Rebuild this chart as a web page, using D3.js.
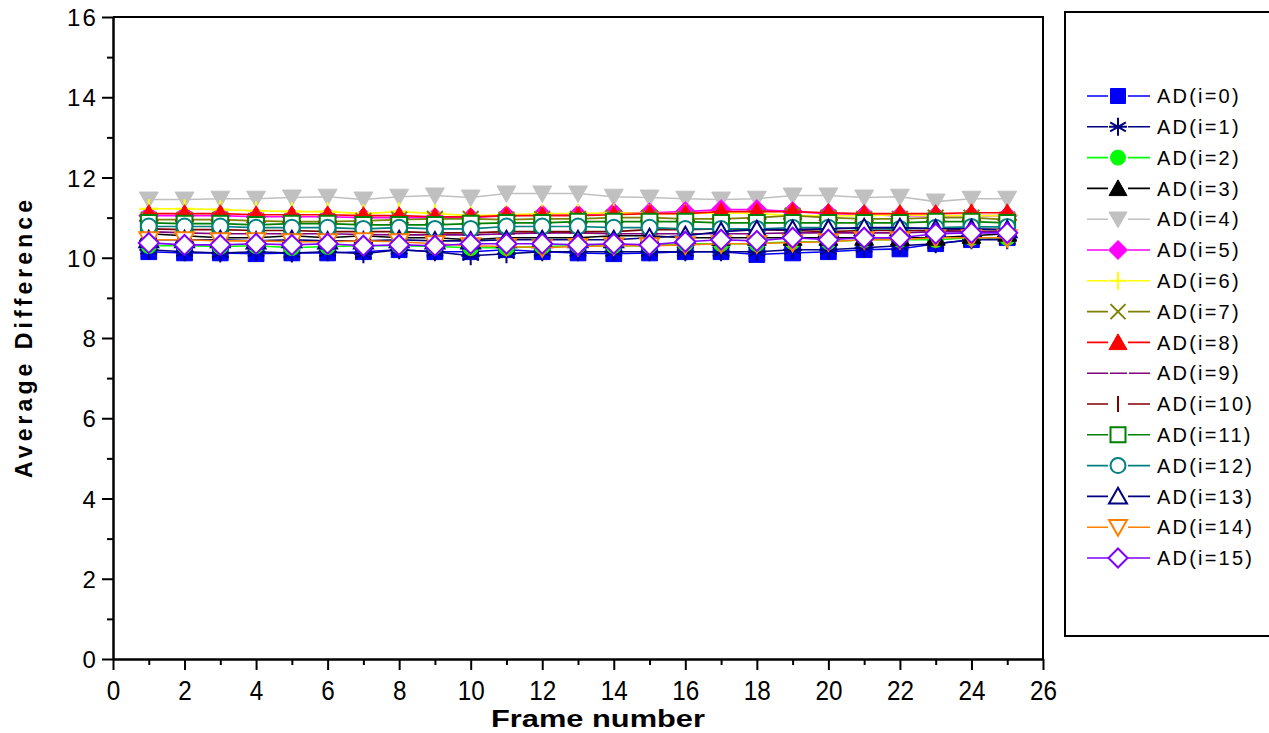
<!DOCTYPE html>
<html><head><meta charset="utf-8">
<script src="https://cdn.jsdelivr.net/npm/d3@7/dist/d3.min.js"></script>
<style>
html,body{margin:0;padding:0;background:#fff;}
svg{display:block;font-family:"Liberation Sans",Arial,sans-serif;}
</style></head>
<body>
<svg id="c" width="1269" height="733"></svg>
<script>
const frames = d3.range(1, 26);
const seriesNames = ["AD(i=0)","AD(i=1)","AD(i=2)","AD(i=3)","AD(i=4)","AD(i=5)","AD(i=6)","AD(i=7)","AD(i=8)","AD(i=9)","AD(i=10)","AD(i=11)","AD(i=12)","AD(i=13)","AD(i=14)","AD(i=15)"];
const xTicks = d3.range(0, 27, 2);
const yTicks = d3.range(0, 17, 2);

const ad0  = [10.15,10.12,10.12,10.10,10.12,10.12,10.15,10.20,10.15,10.15,10.20,10.15,10.12,10.10,10.12,10.15,10.15,10.08,10.12,10.15,10.20,10.22,10.35,10.45,10.50];
const ad1  = [10.20,10.15,10.12,10.15,10.12,10.15,10.10,10.20,10.15,10.05,10.10,10.15,10.15,10.15,10.15,10.15,10.15,10.15,10.20,10.20,10.25,10.30,10.35,10.45,10.45];
const ad2  = [10.30,10.30,10.28,10.30,10.25,10.28,10.30,10.30,10.28,10.25,10.25,10.28,10.30,10.30,10.30,10.35,10.35,10.35,10.40,10.40,10.45,10.45,10.45,10.50,10.50];
const ad3  = [10.60,10.55,10.50,10.50,10.55,10.50,10.55,10.50,10.50,10.45,10.50,10.50,10.50,10.55,10.55,10.50,10.50,10.50,10.50,10.50,10.50,10.50,10.50,10.55,10.60];
const ad4  = [11.45,11.45,11.47,11.47,11.50,11.52,11.45,11.52,11.55,11.50,11.60,11.60,11.60,11.52,11.50,11.47,11.45,11.47,11.55,11.55,11.50,11.52,11.40,11.47,11.47];
const ad5  = [11.05,11.05,11.05,11.02,11.02,11.02,11.00,11.00,11.00,11.00,11.05,11.07,11.07,11.12,11.12,11.15,11.20,11.20,11.15,11.10,11.07,11.05,11.05,11.05,11.05];
const ad6  = [11.22,11.22,11.20,11.17,11.15,11.15,11.10,11.15,11.10,11.05,11.07,11.10,11.10,11.12,11.10,11.10,11.12,11.10,11.05,11.05,11.05,11.07,11.05,11.05,11.05];
const ad7  = [10.95,10.95,10.95,10.92,10.90,10.90,10.92,10.95,10.97,10.97,10.95,10.97,10.97,11.00,11.00,10.97,10.97,11.00,11.05,11.00,10.97,10.97,11.00,11.00,10.95];
const ad8  = [11.10,11.10,11.10,11.07,11.07,11.07,11.05,11.05,11.02,11.02,11.05,11.05,11.05,11.07,11.10,11.10,11.15,11.15,11.15,11.12,11.10,11.10,11.10,11.12,11.12];
const ad9  = [10.65,10.62,10.60,10.60,10.60,10.60,10.58,10.57,10.57,10.57,10.60,10.62,10.62,10.60,10.60,10.60,10.60,10.60,10.62,10.62,10.62,10.62,10.65,10.65,10.65];
const ad10 = [10.72,10.70,10.70,10.68,10.68,10.65,10.65,10.65,10.62,10.62,10.65,10.65,10.65,10.65,10.70,10.70,10.72,10.70,10.68,10.65,10.68,10.68,10.68,10.70,10.70];
const ad11 = [10.87,10.85,10.85,10.82,10.85,10.85,10.82,10.82,10.82,10.85,10.87,10.87,10.90,10.90,10.90,10.90,10.87,10.87,10.87,10.87,10.87,10.87,10.90,10.90,10.87];
const ad12 = [10.78,10.78,10.78,10.75,10.75,10.75,10.72,10.75,10.72,10.72,10.78,10.78,10.78,10.75,10.75,10.72,10.72,10.72,10.75,10.75,10.72,10.72,10.75,10.77,10.77];
const ad13 = [10.45,10.45,10.45,10.42,10.45,10.42,10.42,10.45,10.42,10.42,10.45,10.45,10.45,10.45,10.50,10.55,10.65,10.70,10.70,10.72,10.75,10.75,10.72,10.72,10.70];
const ad14 = [10.45,10.45,10.42,10.42,10.40,10.40,10.42,10.40,10.35,10.30,10.28,10.25,10.28,10.30,10.30,10.32,10.35,10.35,10.38,10.40,10.45,10.45,10.50,10.50,10.50];
const ad15 = [10.37,10.32,10.32,10.35,10.32,10.35,10.30,10.32,10.30,10.35,10.35,10.35,10.32,10.35,10.32,10.40,10.45,10.42,10.50,10.45,10.50,10.50,10.60,10.62,10.62];
const seriesValues = [ad0,ad1,ad2,ad3,ad4,ad5,ad6,ad7,ad8,ad9,ad10,ad11,ad12,ad13,ad14,ad15];

const styles = [
  {c:"#0000ff", m:"square", fill:true},
  {c:"#000080", m:"asterisk", fill:false},
  {c:"#00ff00", m:"circle", fill:true},
  {c:"#000000", m:"triUp", fill:true},
  {c:"#c0c0c0", m:"triDown", fill:true},
  {c:"#ff00ff", m:"diamond", fill:true},
  {c:"#ffff00", m:"plus", fill:false},
  {c:"#808000", m:"cross", fill:false},
  {c:"#ff0000", m:"triUp", fill:true},
  {c:"#800080", m:"hbar", fill:false},
  {c:"#800000", m:"vbar", fill:false},
  {c:"#008000", m:"square", fill:false},
  {c:"#008080", m:"circle", fill:false},
  {c:"#000080", m:"triUp", fill:false},
  {c:"#ff8000", m:"triDown", fill:false},
  {c:"#8000ff", m:"diamond", fill:false}
];
const closedShapes = ["square","circle","triUp","triDown","diamond"];

function markerPath(m, s) {
  const p = d3.path();
  switch (m) {
    case "square": { const r = 7.5*s; p.rect(-r,-r,2*r,2*r); break; }
    case "circle": { const r = 7.5*s; p.moveTo(r,0); p.arc(0,0,r,0,2*Math.PI); p.closePath(); break; }
    case "triUp": { const r = 9*s; p.moveTo(0,-r*0.95); p.lineTo(r,r*0.8); p.lineTo(-r,r*0.8); p.closePath(); break; }
    case "triDown": { const r = 9*s; p.moveTo(0,r*0.95); p.lineTo(r,-r*0.8); p.lineTo(-r,-r*0.8); p.closePath(); break; }
    case "diamond": { const r = 9.5*s; p.moveTo(0,-r); p.lineTo(r,0); p.lineTo(0,r); p.lineTo(-r,0); p.closePath(); break; }
    case "plus": { const r = 9*s; p.moveTo(-r,0); p.lineTo(r,0); p.moveTo(0,-r); p.lineTo(0,r); break; }
    case "cross": { const r = 7.5*s; p.moveTo(-r,-r); p.lineTo(r,r); p.moveTo(-r,r); p.lineTo(r,-r); break; }
    case "asterisk": { const r = 9*s; p.moveTo(0,-r); p.lineTo(0,r);
      p.moveTo(-r*0.87,-r*0.5); p.lineTo(r*0.87,r*0.5); p.moveTo(-r*0.87,r*0.5); p.lineTo(r*0.87,-r*0.5);
      p.moveTo(-r,0); p.lineTo(r,0); break; }
    case "hbar": { const r = 8*s; p.moveTo(-r,0); p.lineTo(r,0); break; }
    case "vbar": { const r = 8*s; p.moveTo(0,-r); p.lineTo(0,r); break; }
  }
  return p.toString();
}

const svg = d3.select("#c");
const x = d3.scaleLinear().domain([0,26]).range([113,1043]);
const y = d3.scaleLinear().domain([0,16]).range([659,17]);

// frame (top and right)
svg.append("path").attr("d", `M${x(0)},${y(16)}H${x(26)}V${y(0)}`)
  .attr("fill","none").attr("stroke","#000").attr("stroke-width",2);

// minor ticks
const gx = svg.append("g").attr("transform",`translate(0,${y(0)})`);
gx.call(d3.axisBottom(x).tickValues(d3.range(1,26,2)).tickSize(6).tickFormat(""));
const gy = svg.append("g").attr("transform",`translate(${x(0)},0)`);
gy.call(d3.axisLeft(y).tickValues(d3.range(1,16,2)).tickSize(6).tickFormat(""));
[gx,gy].forEach(g=>{g.select(".domain").remove(); g.selectAll("line").attr("stroke-width",2);});

// major axes
const ax = svg.append("g").attr("transform",`translate(0,${y(0)})`)
  .call(d3.axisBottom(x).tickValues(xTicks).tickSize(11).tickSizeOuter(0).tickPadding(10));
ax.selectAll("text")
  .attr("font-family","Liberation Sans, Arial, sans-serif")
  .attr("font-size",27).attr("fill","#000")
  .attr("y",41).attr("dy",null)
  .attr("textLength", d => String(d).length * 13.5)
  .attr("lengthAdjust","spacingAndGlyphs");
const ay = svg.append("g").attr("transform",`translate(${x(0)},0)`)
  .call(d3.axisLeft(y).tickValues(yTicks).tickSize(11).tickSizeOuter(0).tickPadding(6));
ay.selectAll("text").attr("font-size",24).attr("fill","#000")
  .attr("font-family","Liberation Sans, Arial, sans-serif")
  .attr("letter-spacing",2.2).attr("x",-15).attr("dy","0.36em");
[ax,ay].forEach(g=>{g.select(".domain").attr("stroke-width",2.5); g.selectAll("line").attr("stroke-width",2);});

// axis titles
svg.append("text").attr("x",598).attr("y",727).attr("text-anchor","middle")
  .attr("font-size",24).attr("font-weight","bold")
  .attr("textLength",214).attr("lengthAdjust","spacingAndGlyphs").text("Frame number");
svg.append("text").attr("transform","translate(32,339) rotate(-90)").attr("text-anchor","middle")
  .attr("font-size",23).attr("font-weight","bold")
  .attr("textLength",278).attr("lengthAdjust","spacing").text("Average Difference");

// series
const line = d3.line().x((d,i)=>x(frames[i])).y(d=>y(d));
const plot = svg.append("g");
seriesValues.forEach((vals, k) => {
  const st = styles[k];
  const g = plot.append("g");
  g.append("path").attr("d", line(vals)).attr("fill","none").attr("stroke",st.c).attr("stroke-width",1.6);
  g.selectAll("path.mk").data(vals).join("path").attr("class","mk")
    .attr("transform",(d,i)=>`translate(${x(frames[i])},${y(d)})`)
    .attr("d", markerPath(st.m,1.05))
    .attr("fill", st.fill ? st.c : (closedShapes.includes(st.m) ? "#fff" : "none"))
    .attr("stroke", st.c).attr("stroke-width", st.fill ? 1 : 2);
});

// legend
svg.append("rect").attr("x",1065).attr("y",12).attr("width",220).attr("height",624)
  .attr("fill","#fff").attr("stroke","#000").attr("stroke-width",2);
const ly = d3.scaleLinear().domain([0,15]).range([96,558]);
seriesNames.forEach((name,k)=>{
  const st = styles[k];
  const g = svg.append("g").attr("transform",`translate(0,${ly(k)})`);
  if (st.m === "hbar") {
    g.append("path").attr("d","M1087,0H1108M1110,0H1127M1129,0H1150").attr("stroke",st.c).attr("stroke-width",1.6);
  } else {
    g.append("path").attr("d","M1087,0H1108M1128,0H1150").attr("stroke",st.c).attr("stroke-width",1.6);
    g.append("path").attr("transform","translate(1118,0)").attr("d", markerPath(st.m,1))
      .attr("fill", st.fill ? st.c : (closedShapes.includes(st.m) ? "#fff" : "none"))
      .attr("stroke", st.c).attr("stroke-width", st.fill ? 1 : 2);
  }
  g.append("text").attr("x",1157).attr("y",0).attr("dy","0.36em").attr("font-size",20)
    .attr("letter-spacing",2.2).text(name);
});
</script>
</body></html>
